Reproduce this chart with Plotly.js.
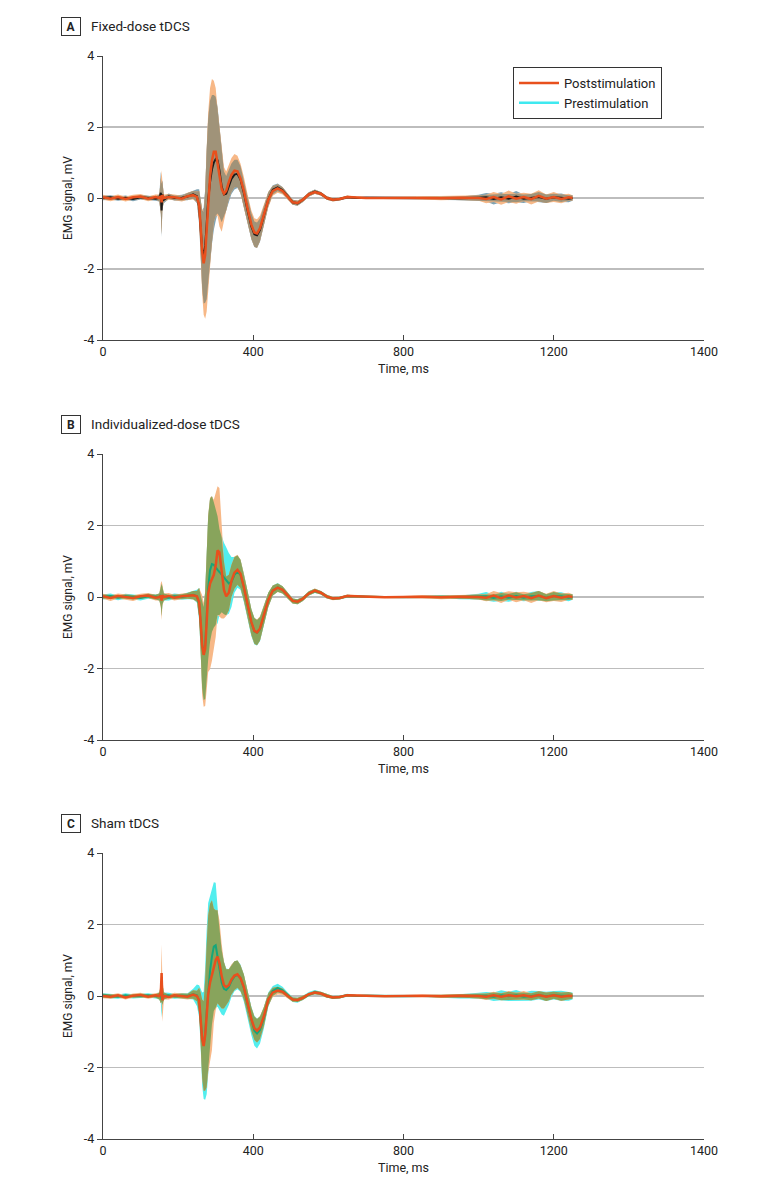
<!DOCTYPE html>
<html>
<head>
<meta charset="utf-8">
<script src="https://cdn.plot.ly/plotly-3.0.1.min.js"></script>
<style>
  html, body { margin: 0; padding: 0; background: #fff; }
  #chart { width: 780px; height: 1193px; }
</style>
</head>
<body>
<div id="chart"></div>
<script>
const times = [0,20,40,60,80,100,120,140,
  150,154,156,158,162,
  175,190,210,225,240,250,
  256,260,264,268,272,276,280,285,
  290,295,300,305,310,316,322,328,
  335,342,350,358,366,375,385,395,
  403,410,418,428,440,452,465,478,
  492,505,518,532,548,564,580,596,
  612,630,650,675,700,750,800,850,
  900,950,1000,1020,1040,1060,1080,1100,
  1120,1140,1160,1180,1200,1220,1240,1250];

// axis ticks (the last tick of the original axis is labelled 1400)
const xTickVals = [0, 400, 800, 1200, 1600];
const xTickText = ['0', '400', '800', '1200', '1400'];
const yTickVals = [-4, -2, 0, 2, 4];
const yTickText = ['-4', '-2', '0', '2', '4'];

const panelLetters = ['A', 'B', 'C'];
const panelTitles = ['Fixed-dose tDCS', 'Individualized-dose tDCS', 'Sham tDCS'];

// A: fixed dose
const fixedPreMean = [0.0,0.02,-0.02,0.01,-0.03,0.02,0.0,-0.02,
  0.0,0.15,-0.35,0.1,-0.05,
  0.05,0.0,0.01,0.04,0.1,0.05,
  -0.25,-0.85,-1.45,-1.62,-1.35,-0.75,-0.05,0.45,
  0.8,1.0,1.1,1.06,0.78,0.32,0.1,0.12,
  0.33,0.54,0.66,0.68,0.52,0.15,-0.35,-0.8,
  -1.02,-1.05,-0.9,-0.52,-0.04,0.23,0.3,0.22,
  0.03,-0.12,-0.15,-0.05,0.1,0.18,0.12,0.0,
  -0.05,-0.03,0.02,0.0,0.01,0.0,-0.01,0.0,
  0.0,-0.01,0.01,0.02,-0.03,0.02,-0.02,0.04,
  -0.02,0.01,0.03,-0.02,0.02,0.01,-0.02,0.0];
const fixedPreSd = [0.06,0.06,0.06,0.06,0.06,0.06,0.06,0.06,
  0.1,0.6,0.75,0.4,0.1,
  0.08,0.07,0.08,0.1,0.12,0.2,
  0.5,0.8,1.1,1.35,1.6,2.1,2.3,2.3,
  2.1,1.9,1.75,1.5,1.3,1.0,0.65,0.5,
  0.45,0.43,0.42,0.4,0.38,0.37,0.37,0.37,
  0.36,0.36,0.33,0.28,0.2,0.13,0.11,0.09,
  0.08,0.07,0.07,0.06,0.06,0.06,0.05,0.05,
  0.04,0.04,0.04,0.03,0.03,0.03,0.03,0.03,
  0.04,0.05,0.08,0.12,0.15,0.14,0.13,0.16,
  0.12,0.1,0.14,0.12,0.1,0.12,0.1,0.08];
const fixedPostMean = [0.02,-0.02,0.03,-0.03,0.02,0.04,-0.02,0.03,
  0.0,0.06,-0.12,0.08,0.0,
  0.03,0.02,-0.02,0.05,0.08,0.03,
  -0.2,-0.8,-1.5,-1.84,-1.6,-0.9,-0.1,0.6,
  1.05,1.3,1.3,1.0,0.6,0.25,0.12,0.2,
  0.45,0.65,0.77,0.75,0.55,0.2,-0.3,-0.75,
  -0.97,-1.0,-0.85,-0.5,-0.05,0.2,0.27,0.2,
  0.02,-0.12,-0.14,-0.05,0.1,0.17,0.12,0.0,
  -0.05,-0.03,0.03,0.01,0.0,0.0,0.01,0.0,
  -0.01,0.01,0.0,-0.03,0.03,-0.04,0.05,-0.02,
  0.03,-0.03,0.06,-0.02,0.03,-0.03,0.02,0.0];
const fixedPostSd = [0.07,0.07,0.07,0.07,0.07,0.07,0.07,0.07,
  0.1,0.5,0.9,0.4,0.1,
  0.08,0.08,0.08,0.1,0.12,0.15,
  0.4,0.8,1.2,1.45,1.8,2.3,2.5,2.5,
  2.3,2.0,1.8,1.5,1.4,1.2,0.75,0.55,
  0.48,0.48,0.47,0.44,0.42,0.4,0.4,0.4,
  0.4,0.4,0.36,0.3,0.22,0.14,0.12,0.1,
  0.08,0.07,0.07,0.06,0.06,0.06,0.05,0.05,
  0.05,0.04,0.04,0.04,0.03,0.03,0.03,0.04,
  0.05,0.06,0.08,0.12,0.14,0.15,0.16,0.14,
  0.12,0.15,0.16,0.12,0.14,0.12,0.1,0.08];

// B: individualized dose
const indivPreMean = [0.0,0.03,-0.02,0.02,0.0,-0.03,0.02,0.0,
  0.0,0.05,-0.08,0.04,0.0,
  -0.02,0.02,0.0,0.03,0.06,0.02,
  -0.2,-0.75,-1.35,-1.58,-1.35,-0.55,0.25,0.75,
  0.92,0.9,0.82,0.76,0.7,0.62,0.52,0.44,
  0.38,0.42,0.62,0.71,0.62,0.26,-0.22,-0.72,
  -0.96,-1.0,-0.9,-0.54,-0.08,0.18,0.27,0.2,
  0.03,-0.11,-0.13,-0.05,0.1,0.17,0.12,0.01,
  -0.04,-0.03,0.02,0.01,0.0,0.0,-0.01,0.0,
  0.01,-0.01,0.01,0.02,-0.03,0.02,-0.02,0.03,
  -0.02,0.02,0.03,-0.02,0.02,0.02,-0.02,0.0];
const indivPreSd = [0.07,0.07,0.07,0.07,0.07,0.07,0.07,0.07,
  0.1,0.3,0.45,0.25,0.1,
  0.08,0.08,0.08,0.09,0.12,0.18,
  0.45,0.8,1.2,1.3,1.5,1.8,2.0,2.0,
  1.9,1.75,1.6,1.5,1.2,1.05,1.0,0.95,
  0.85,0.7,0.5,0.45,0.42,0.4,0.38,0.38,
  0.37,0.36,0.34,0.28,0.2,0.14,0.12,0.1,
  0.08,0.07,0.07,0.06,0.06,0.06,0.05,0.05,
  0.04,0.04,0.04,0.03,0.03,0.03,0.03,0.03,
  0.04,0.05,0.08,0.12,0.1,0.13,0.11,0.12,
  0.1,0.12,0.14,0.1,0.12,0.11,0.1,0.08];
const indivPostMean = [0.02,-0.03,0.03,0.0,-0.03,0.02,0.04,-0.02,
  0.0,0.04,-0.1,0.05,0.0,
  0.03,-0.02,0.02,0.03,0.05,0.02,
  -0.15,-0.7,-1.35,-1.62,-1.45,-0.7,0.1,0.38,
  0.52,0.62,0.88,1.3,1.25,0.7,0.2,0.02,
  0.12,0.45,0.68,0.76,0.65,0.28,-0.2,-0.7,
  -0.95,-0.99,-0.88,-0.52,-0.08,0.18,0.26,0.2,
  0.03,-0.11,-0.13,-0.05,0.1,0.18,0.12,0.01,
  -0.04,-0.03,0.03,0.02,0.0,-0.01,0.0,0.01,
  -0.01,0.01,0.0,-0.02,0.04,-0.03,0.04,-0.01,
  0.03,-0.03,0.04,-0.03,0.03,-0.02,0.02,0.0];
const indivPostSd = [0.07,0.08,0.07,0.07,0.08,0.07,0.07,0.08,
  0.1,0.35,0.55,0.3,0.1,
  0.08,0.08,0.08,0.08,0.12,0.15,
  0.4,0.85,1.4,1.45,1.6,1.9,2.2,2.4,
  2.3,2.1,2.0,1.8,1.8,1.3,0.8,0.55,
  0.5,0.45,0.45,0.42,0.4,0.38,0.36,0.36,
  0.36,0.36,0.34,0.28,0.2,0.14,0.12,0.1,
  0.08,0.07,0.07,0.06,0.06,0.06,0.05,0.05,
  0.05,0.04,0.04,0.04,0.03,0.03,0.03,0.04,
  0.05,0.05,0.07,0.1,0.13,0.14,0.12,0.14,
  0.12,0.14,0.13,0.12,0.14,0.12,0.1,0.08];

// C: sham
const shamPreMean = [0.02,0.0,-0.02,0.02,-0.01,0.0,0.02,-0.01,
  0.0,0.05,-0.1,0.05,0.0,
  0.02,-0.01,0.01,0.0,0.05,0.02,
  -0.15,-0.62,-1.2,-1.38,-1.05,-0.45,0.2,0.7,
  1.1,1.38,1.42,1.1,0.7,0.38,0.2,0.17,
  0.25,0.42,0.55,0.59,0.5,0.22,-0.25,-0.7,
  -0.97,-1.05,-0.95,-0.62,-0.1,0.14,0.22,0.16,
  0.02,-0.1,-0.12,-0.05,0.05,0.11,0.07,0.0,
  -0.04,-0.03,0.02,0.0,0.01,0.0,-0.01,0.0,
  0.0,-0.01,0.01,0.01,-0.02,0.02,-0.01,0.02,
  -0.02,0.01,0.02,-0.01,0.02,0.01,-0.01,0.0];
const shamPreSd = [0.06,0.06,0.06,0.06,0.06,0.06,0.06,0.06,
  0.1,0.25,0.5,0.3,0.1,
  0.07,0.07,0.07,0.08,0.15,0.3,
  0.45,0.8,1.3,1.5,1.85,2.3,2.4,2.1,
  1.9,1.8,1.75,1.4,1.1,0.9,0.75,0.6,
  0.5,0.45,0.42,0.4,0.38,0.38,0.38,0.4,
  0.42,0.42,0.38,0.3,0.2,0.14,0.12,0.1,
  0.08,0.07,0.07,0.06,0.06,0.06,0.05,0.05,
  0.04,0.04,0.04,0.03,0.03,0.03,0.03,0.03,
  0.04,0.06,0.08,0.1,0.12,0.14,0.13,0.15,
  0.12,0.14,0.12,0.13,0.12,0.14,0.12,0.1];
const shamPostMean = [0.0,-0.02,0.02,-0.04,0.01,0.03,-0.02,0.02,
  0.0,0.1,0.64,-0.12,0.0,
  -0.03,0.02,0.0,-0.02,0.04,0.0,
  -0.12,-0.6,-1.2,-1.4,-1.1,-0.55,0.05,0.38,
  0.58,0.85,1.0,1.1,0.92,0.55,0.3,0.25,
  0.3,0.46,0.57,0.61,0.5,0.25,-0.2,-0.65,
  -0.9,-0.97,-0.88,-0.58,-0.1,0.1,0.15,0.12,
  0.0,-0.1,-0.11,-0.05,0.05,0.1,0.07,0.0,
  -0.04,-0.03,0.02,0.01,0.0,-0.01,0.0,0.01,
  -0.01,0.01,0.0,-0.02,0.02,-0.02,0.02,-0.01,
  0.02,-0.02,0.03,-0.02,0.02,-0.02,0.01,0.0];
const shamPostSd = [0.06,0.06,0.06,0.06,0.06,0.06,0.06,0.06,
  0.1,0.3,0.8,0.6,0.1,
  0.07,0.07,0.07,0.08,0.12,0.15,
  0.35,0.7,1.1,1.25,1.55,2.0,2.2,2.2,
  2.1,1.6,1.4,1.3,1.2,0.9,0.65,0.5,
  0.45,0.42,0.4,0.38,0.36,0.35,0.33,0.33,
  0.33,0.33,0.32,0.27,0.18,0.13,0.11,0.09,
  0.07,0.06,0.06,0.06,0.05,0.05,0.05,0.05,
  0.04,0.04,0.03,0.03,0.03,0.03,0.03,0.03,
  0.04,0.05,0.07,0.09,0.1,0.1,0.12,0.1,
  0.12,0.1,0.1,0.12,0.1,0.12,0.1,0.08];

const POST_LINE = '#e8501d';
const POST_FILL = '#f7b887';
const LEGEND_PRE = '#3fe9f0';

const panels = [
  { pre: fixedPreMean, preSd: fixedPreSd, post: fixedPostMean, postSd: fixedPostSd,
    preLine: '#1a1a1a', preFill: '#7fa3b3', both: '#a09379' },
  { pre: indivPreMean, preSd: indivPreSd, post: indivPostMean, postSd: indivPostSd,
    preLine: '#16a67a', preFill: '#52eeee', both: '#88a45c' },
  { pre: shamPreMean, preSd: shamPreSd, post: shamPostMean, postSd: shamPostSd,
    preLine: '#16a67a', preFill: '#52eeee', both: '#88a45c' }
];

// plot area in pixels: left 103, right 704; panel tops/bottoms
const M = { l: 103, r: 76, t: 56, b: 54 };
const W = 780, H = 1193;
const plotH = H - M.t - M.b;
const plotW = W - M.l - M.r;
const px = x => (x - M.l) / plotW;
const py = y => (H - M.b - y) / plotH;
const panelTop = [56, 454, 853];
const panelBottom = [340, 740, 1139];

function offset(mean, sd, sign) {
  return mean.map((m, i) => m + sign * sd[i]);
}

function area(lo, hi, color, xa, ya) {
  return {
    x: times.concat(times.slice().reverse()),
    y: hi.concat(lo.slice().reverse()),
    xaxis: xa, yaxis: ya,
    type: 'scatter', mode: 'lines',
    fill: 'toself', fillcolor: color,
    line: { width: 0 }, hoverinfo: 'skip', showlegend: false
  };
}

const traces = [];
panels.forEach((p, k) => {
  const xa = k === 0 ? 'x' : 'x' + (k + 1);
  const ya = k === 0 ? 'y' : 'y' + (k + 1);
  const preLo = offset(p.pre, p.preSd, -1), preHi = offset(p.pre, p.preSd, 1);
  const postLo = offset(p.post, p.postSd, -1), postHi = offset(p.post, p.postSd, 1);
  const bothLo = preLo.map((v, i) => Math.max(v, postLo[i]));
  const bothHi = preHi.map((v, i) => Math.max(bothLo[i], Math.min(v, postHi[i])));

  traces.push(area(preLo, preHi, p.preFill, xa, ya));
  traces.push(area(postLo, postHi, POST_FILL, xa, ya));
  traces.push(area(bothLo, bothHi, p.both, xa, ya));
  traces.push({ x: times, y: p.pre, xaxis: xa, yaxis: ya, type: 'scatter', mode: 'lines',
    line: { color: p.preLine, width: 2 }, showlegend: false });
  traces.push({ x: times, y: p.post, xaxis: xa, yaxis: ya, type: 'scatter', mode: 'lines',
    line: { color: POST_LINE, width: 2.5 }, showlegend: false });
});

// legend entries
traces.push({ x: [null], y: [null], type: 'scatter', mode: 'lines', name: 'Poststimulation',
  line: { color: POST_LINE, width: 2.5 } });
traces.push({ x: [null], y: [null], type: 'scatter', mode: 'lines', name: 'Prestimulation',
  line: { color: LEGEND_PRE, width: 2.5 } });

const FONT = 'Roboto, "Open Sans", sans-serif';

function xAxis(k) {
  return {
    domain: [0, 1], anchor: k === 0 ? 'y' : 'y' + (k + 1),
    range: [0, 1600], tickmode: 'array', tickvals: xTickVals, ticktext: xTickText,
    ticks: 'inside', ticklen: 5, tickcolor: '#444',
    showline: true, linecolor: '#444', linewidth: 1.2,
    showgrid: false, zeroline: false,
    tickfont: { size: 12.5, color: '#222' },
    title: { text: 'Time, ms', font: { size: 12.5, color: '#222' }, standoff: 6 }
  };
}
function yAxis(k) {
  return {
    domain: [py(panelBottom[k]), py(panelTop[k])], anchor: k === 0 ? 'x' : 'x' + (k + 1),
    range: [-4, 4], tickmode: 'array', tickvals: yTickVals, ticktext: yTickText,
    ticks: 'outside', ticklen: 5, tickcolor: '#444',
    showline: true, linecolor: '#444', linewidth: 1.2,
    showgrid: true, gridcolor: '#bdbdbd', gridwidth: 1.5, zeroline: false,
    tickfont: { size: 12.5, color: '#222' },
    title: { text: 'EMG signal, mV', font: { size: 12, color: '#222' }, standoff: 8 }
  };
}

const annotations = [];
panelLetters.forEach((letter, k) => {
  const yc = py(panelTop[k] - 30);
  annotations.push({
    xref: 'paper', yref: 'paper', x: px(71), y: yc, xanchor: 'center', yanchor: 'middle',
    text: '<b>' + letter + '</b>', showarrow: false,
    font: { size: 12, color: '#222', family: FONT },
    bordercolor: '#333', borderwidth: 1, borderpad: 1, width: 16, height: 15
  });
  annotations.push({
    xref: 'paper', yref: 'paper', x: px(89), y: yc, xanchor: 'left', yanchor: 'middle',
    text: panelTitles[k], showarrow: false,
    font: { size: 13.5, color: '#222', family: FONT }
  });
});

const layout = {
  width: W, height: H,
  margin: M,
  paper_bgcolor: '#fff', plot_bgcolor: '#fff',
  font: { family: FONT, color: '#222' },
  showlegend: true,
  legend: {
    x: px(513), y: py(67), xanchor: 'left', yanchor: 'top',
    bordercolor: '#333', borderwidth: 1, bgcolor: '#fff',
    font: { size: 13, color: '#222' }, itemwidth: 40, tracegroupgap: 0
  },
  annotations: annotations,
  xaxis: xAxis(0), xaxis2: xAxis(1), xaxis3: xAxis(2),
  yaxis: yAxis(0), yaxis2: yAxis(1), yaxis3: yAxis(2)
};

Plotly.newPlot('chart', traces, layout, { staticPlot: true, displayModeBar: false });
</script>
</body>
</html>
